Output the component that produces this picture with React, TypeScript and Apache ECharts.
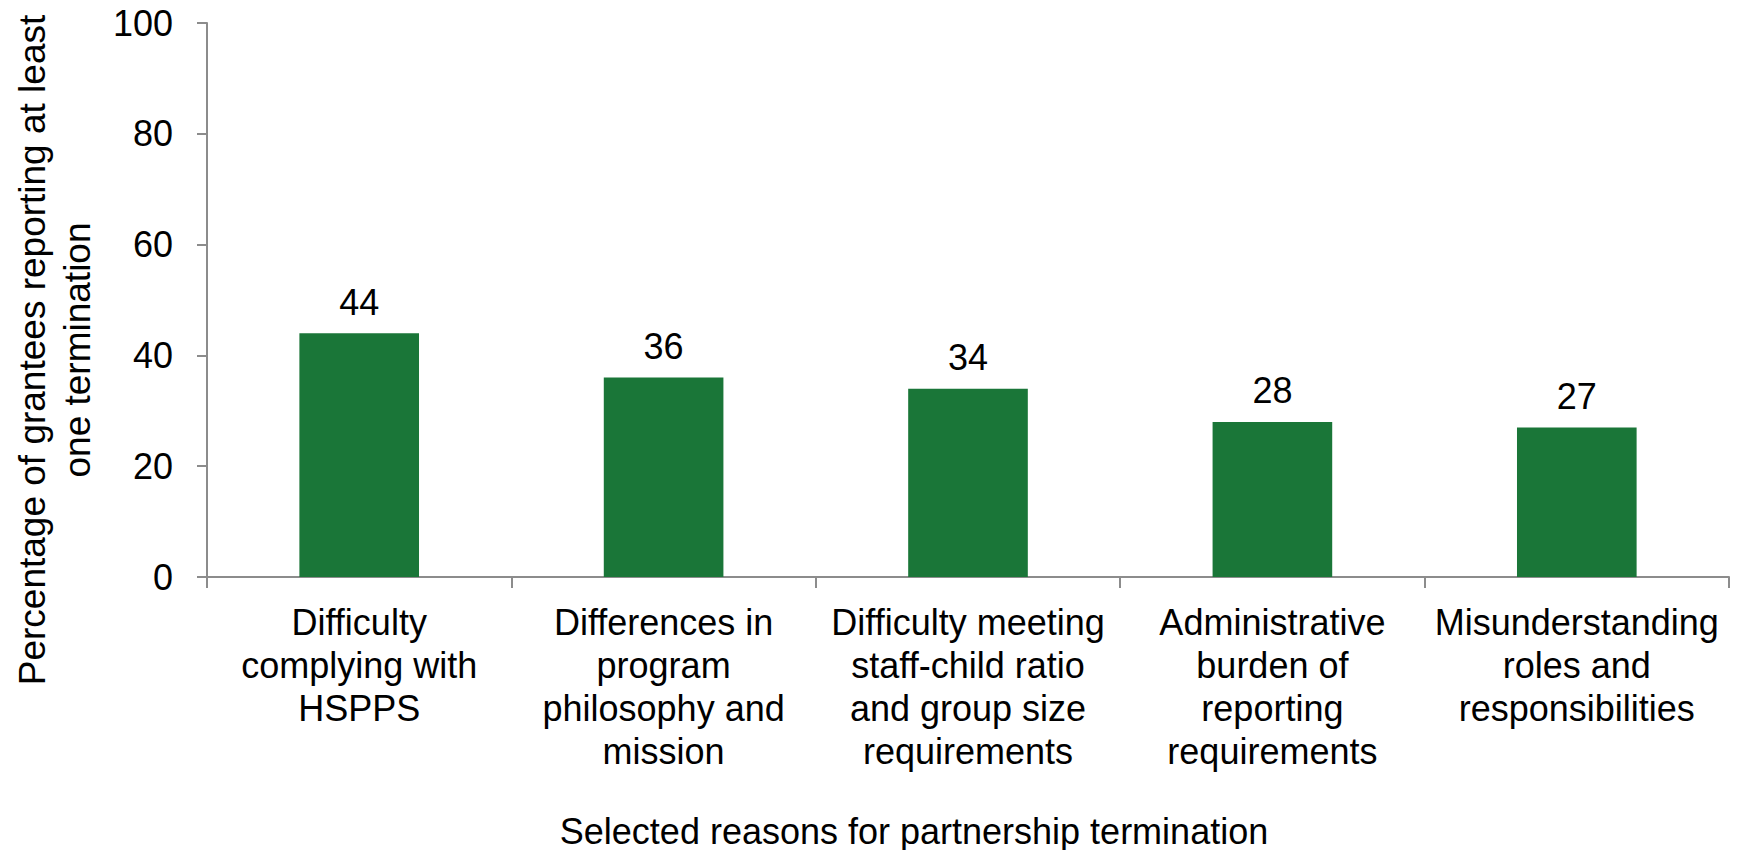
import React, { useEffect, useRef } from "react";
import * as echarts from "echarts";

const categories: string[] = [
  "Difficulty\ncomplying with\nHSPPS",
  "Differences in\nprogram\nphilosophy and\nmission",
  "Difficulty meeting\nstaff-child ratio\nand group size\nrequirements",
  "Administrative\nburden of\nreporting\nrequirements",
  "Misunderstanding\nroles and\nresponsibilities",
];
const values: number[] = [44, 36, 34, 28, 27];
const yTicks: number[] = [0, 20, 40, 60, 80, 100];
const yTitle = "Percentage of grantees reporting at least\none termination";
const xTitle = "Selected reasons for partnership termination";

const FONT = "'Liberation Sans', Arial, Helvetica, sans-serif";
const AXIS_GRAY = "#8c8c8c";
const BAR_GREEN = "#1a7638";

export default function App() {
  const ref = useRef<HTMLDivElement>(null);
  useEffect(() => {
    if (!ref.current) return;
    const chart = echarts.init(ref.current, undefined, { renderer: "svg" });
    chart.setOption({
      animation: false,
      backgroundColor: "#ffffff",
      textStyle: { fontFamily: FONT },
      grid: { left: 207, top: 23, right: 12, bottom: 273, containLabel: false },
      xAxis: {
        type: "category",
        data: categories,
        boundaryGap: true,
        axisLine: { show: true, lineStyle: { color: AXIS_GRAY, width: 2 } },
        axisTick: { show: true, length: 11, lineStyle: { color: AXIS_GRAY, width: 2 } },
        axisLabel: {
          interval: 0,
          margin: 24,
          color: "#000",
          fontSize: 36,
          lineHeight: 43,
          fontFamily: FONT,
          align: "center",
        },
      },
      yAxis: {
        type: "value",
        min: yTicks[0],
        max: yTicks[yTicks.length - 1],
        interval: yTicks[1] - yTicks[0],
        splitLine: { show: false },
        axisLine: { show: true, lineStyle: { color: AXIS_GRAY, width: 2 } },
        axisTick: { show: true, length: 10, lineStyle: { color: AXIS_GRAY, width: 2 } },
        axisLabel: { margin: 34, color: "#000", fontSize: 36, fontFamily: FONT },
      },
      series: [
        {
          type: "bar",
          data: values,
          barWidth: "39.3%",
          itemStyle: { color: BAR_GREEN },
          label: {
            show: true,
            position: "top",
            distance: 13,
            color: "#000",
            fontSize: 36,
            fontFamily: FONT,
          },
        },
      ],
      graphic: [
        {
          type: "text",
          x: 55,
          y: 350,
          rotation: Math.PI / 2,
          style: {
            text: yTitle,
            fill: "#000",
            fontSize: 37,
            fontFamily: FONT,
            lineHeight: 45,
            align: "center",
            verticalAlign: "middle",
          },
        },
        {
          type: "text",
          x: 914,
          y: 831,
          style: {
            text: xTitle,
            fill: "#000",
            fontSize: 36,
            fontFamily: FONT,
            align: "center",
            verticalAlign: "middle",
          },
        },
      ],
    });
    return () => chart.dispose();
  }, []);
  return (
    <div
      ref={ref}
      style={{ position: "fixed", left: 0, top: 0, width: 1741, height: 850 }}
    />
  );
}
